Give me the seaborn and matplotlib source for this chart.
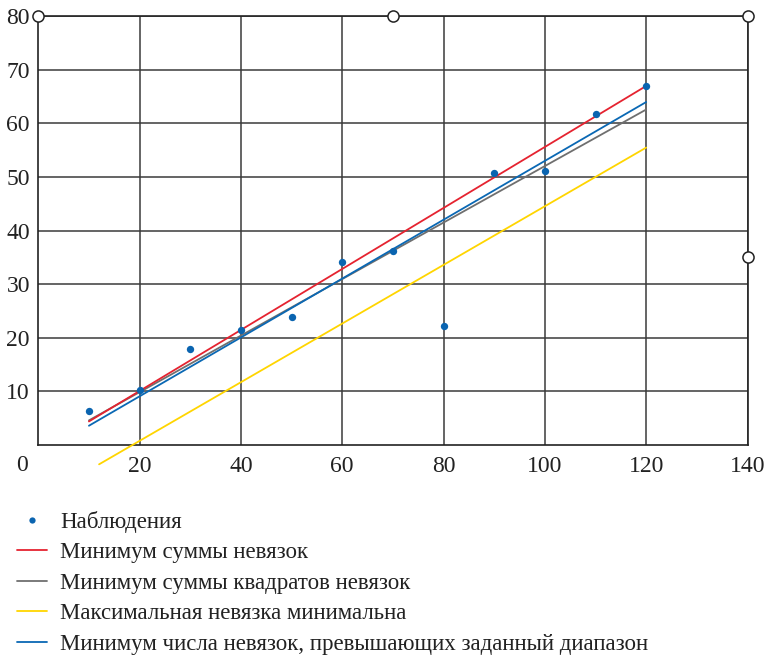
import matplotlib
matplotlib.use("Agg")
import matplotlib.pyplot as plt
from matplotlib.lines import Line2D
import numpy as np
import pandas as pd
import seaborn as sns

# Observations
obs_x = [10, 20, 30, 40, 50, 60, 70, 80, 90, 100, 110, 120]
obs_y = [6.3, 10.3, 17.9, 21.5, 23.8, 34.1, 36.2, 22.3, 50.7, 51.2, 61.7, 67.0]

# Fitted lines, given by their end points
red_x, red_y = [10, 120], [4.4, 67.0]
grey_x, grey_y = [10, 120], [4.6, 62.6]
yellow_x, yellow_y = [12, 120], [-3.6, 55.5]
blue_x, blue_y = [10, 120], [3.6, 64.0]

# Grid ticks and marked frame points
x_ticks = [20, 40, 60, 80, 100, 120, 140]
y_ticks = [10, 20, 30, 40, 50, 60, 70, 80]
ring_x = [0, 70, 140, 140]
ring_y = [80, 80, 80, 35]

labels = [
    "Наблюдения",
    "Минимум суммы невязок",
    "Минимум суммы квадратов невязок",
    "Максимальная невязка минимальна",
    "Минимум числа невязок, превышающих заданный диапазон",
]

c_red = "#e52330"
c_grey = "#6f6f6f"
c_yellow = "#ffd500"
c_blue = "#0a68b4"
c_dot = "#0a64b0"

sns.set_theme(style="white")
plt.rcParams["font.family"] = ["Liberation Serif", "DejaVu Serif"]

fig = plt.figure(figsize=(7.67, 6.56), dpi=100)
ax = fig.add_axes([0.0499, 0.3216, 0.9247, 0.6536])

lw = 1.3
for xs, ys, col, z in [(grey_x, grey_y, c_grey, 3), (red_x, red_y, c_red, 4),
                       (yellow_x, yellow_y, c_yellow, 3), (blue_x, blue_y, c_blue, 5)]:
    sns.lineplot(x=xs, y=ys, ax=ax, color=col, linewidth=lw, zorder=z)
for l in ax.lines:
    l.set_clip_on(False)

sns.scatterplot(x=obs_x, y=obs_y, ax=ax, color=c_dot, s=28, linewidth=0, zorder=6)

ax.set_xlim(0, 140)
ax.set_ylim(0, 80)
ax.set_xticks(x_ticks)
ax.set_yticks(y_ticks)
ax.grid(True, color="#3a3a3a", linewidth=1.1)
ax.set_axisbelow(True)
for s in ax.spines.values():
    s.set_visible(True)
    s.set_color("#222222")
    s.set_linewidth(1.2)
ax.tick_params(axis="both", length=0, labelsize=17, colors="#222222")
ax.tick_params(axis="y", pad=6)
ax.tick_params(axis="x", pad=8)

# origin label sits left of the corner
ax.text(-3.2, -1.9, "0", ha="center", va="top", fontsize=17, color="#222222")

ax.plot(ring_x, ring_y, linestyle="none", marker="o", markersize=8,
        markerfacecolor="white", markeredgecolor="#222222",
        markeredgewidth=1.1, clip_on=False, zorder=10)

handles = [
    Line2D([], [], linestyle="none", marker="o", markersize=4.5,
           markerfacecolor=c_dot, markeredgewidth=0),
    Line2D([], [], color=c_red, linewidth=lw),
    Line2D([], [], color=c_grey, linewidth=lw),
    Line2D([], [], color=c_yellow, linewidth=lw),
    Line2D([], [], color=c_blue, linewidth=lw),
]
fig.legend(handles, labels, loc="upper left", bbox_to_anchor=(0.0104, 0.235),
           frameon=False, fontsize=16.5, handlelength=1.31, handletextpad=0.57,
           labelspacing=0.41, borderaxespad=0, labelcolor="#222222")

fig.savefig("out.png", dpi=100)
